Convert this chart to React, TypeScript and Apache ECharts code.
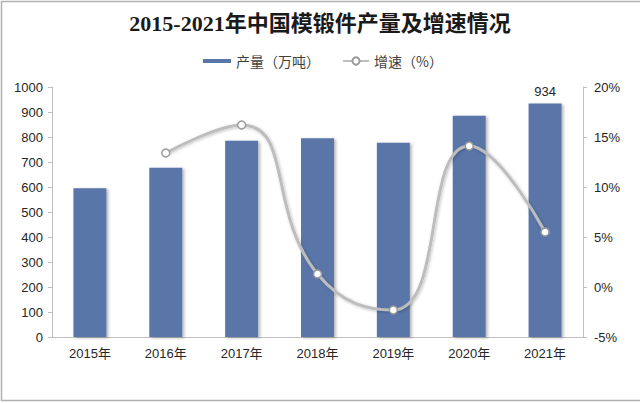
import React, { useEffect, useRef } from "react";
import * as echarts from "echarts";

const titleText = "2015-2021年中国模锻件产量及增速情况";
const years = ["2015年", "2016年", "2017年", "2018年", "2019年", "2020年", "2021年"];
const production = [595, 677, 785, 795, 777, 885, 934];
const growth: (number | null)[] = [null, 13.4, 16.2, 1.3, -2.3, 14.1, 5.5];
const barName = "产量（万吨）";
const lineName = "增速（%）";

const sans = "'Liberation Sans', Arial, 'Noto Sans CJK SC', sans-serif";
const cjk = "'Noto Sans CJK SC', 'Liberation Sans', sans-serif";

export default function App() {
  const ref = useRef<HTMLDivElement>(null);
  useEffect(() => {
    if (!ref.current) return;
    const chart = echarts.init(ref.current, null, { renderer: "svg" });
    const lastIdx = production.length - 1;
    chart.setOption({
      animation: false,
      backgroundColor: "#ffffff",
      title: {
        text: titleText,
        left: "center",
        top: 12,
        padding: 0,
        textStyle: {
          fontFamily: "'Liberation Serif', 'Noto Sans CJK SC', serif",
          fontWeight: "bold",
          fontSize: 22,
          color: "#1a1a1a",
        },
      },
      graphic: [
        {
          type: "rect",
          silent: true,
          shape: { x: 1.5, y: 1.5, width: 660, height: 399 },
          style: { fill: "none", stroke: "#b0b0b0", lineWidth: 1.5 },
          z: 100,
        },
      ],
      legend: [
        {
          data: [{ name: barName, icon: "rect" }],
          left: 203,
          top: 53,
          padding: 0,
          itemWidth: 28,
          itemHeight: 4,
          textStyle: { fontFamily: cjk, fontSize: 14, color: "#404040", lineHeight: 16 },
        },
        {
          data: [{ name: lineName }],
          left: 342,
          top: 53,
          padding: 0,
          itemWidth: 26,
          itemHeight: 9,
          lineStyle: { width: 2 },
          textStyle: { fontFamily: cjk, fontSize: 14, color: "#404040", lineHeight: 16 },
        },
      ],
      grid: { left: 52, right: 57, top: 87, bottom: 66, containLabel: false },
      xAxis: {
        type: "category",
        data: years,
        axisLine: { lineStyle: { color: "#bfbfbf", width: 1 } },
        axisTick: { show: false },
        axisLabel: { fontFamily: sans, fontSize: 13, color: "#262626", margin: 10 },
      },
      yAxis: [
        {
          type: "value",
          min: 0,
          max: 1000,
          interval: 100,
          splitLine: { show: false },
          axisLine: { show: true, lineStyle: { color: "#bfbfbf", width: 1 } },
          axisTick: { show: true, inside: false, length: 4, lineStyle: { color: "#bfbfbf" } },
          axisLabel: {
            fontFamily: sans,
            fontSize: 13,
            color: "#262626",
            margin: 9,
            formatter: (v: number) => String(v),
          },
        },
        {
          type: "value",
          min: -5,
          max: 20,
          interval: 5,
          splitLine: { show: false },
          axisLine: { show: true, lineStyle: { color: "#bfbfbf", width: 1 } },
          axisTick: { show: true, inside: false, length: 4, lineStyle: { color: "#bfbfbf" } },
          axisLabel: {
            fontFamily: sans,
            fontSize: 13,
            color: "#262626",
            margin: 11,
            formatter: "{value}%",
          },
        },
      ],
      series: [
        {
          name: barName,
          type: "bar",
          yAxisIndex: 0,
          barWidth: 33,
          data: production.map((v, i) =>
            i === lastIdx ? { value: v, label: { show: true } } : v
          ),
          itemStyle: {
            color: "#5a76a8",
            shadowColor: "rgba(0,0,0,0.28)",
            shadowBlur: 3,
            shadowOffsetX: 2,
            shadowOffsetY: 1,
          },
          label: {
            show: false,
            position: "top",
            distance: 6,
            fontFamily: sans,
            fontSize: 13,
            color: "#262626",
          },
        },
        {
          name: lineName,
          type: "line",
          yAxisIndex: 1,
          data: growth,
          smooth: 0.5,
          connectNulls: false,
          symbol: "circle",
          symbolSize: 8,
          lineStyle: {
            color: "#bdbdbd",
            width: 3,
            shadowColor: "rgba(0,0,0,0.25)",
            shadowBlur: 3,
            shadowOffsetX: 1,
            shadowOffsetY: 1,
          },
          itemStyle: {
            color: "#ffffff",
            borderColor: "#9a9a9a",
            borderWidth: 1.5,
          },
          z: 3,
        },
      ],
    });
    return () => chart.dispose();
  }, []);
  return (
    <div
      ref={ref}
      style={{ position: "fixed", left: 0, top: 0, width: 640, height: 403 }}
    />
  );
}
